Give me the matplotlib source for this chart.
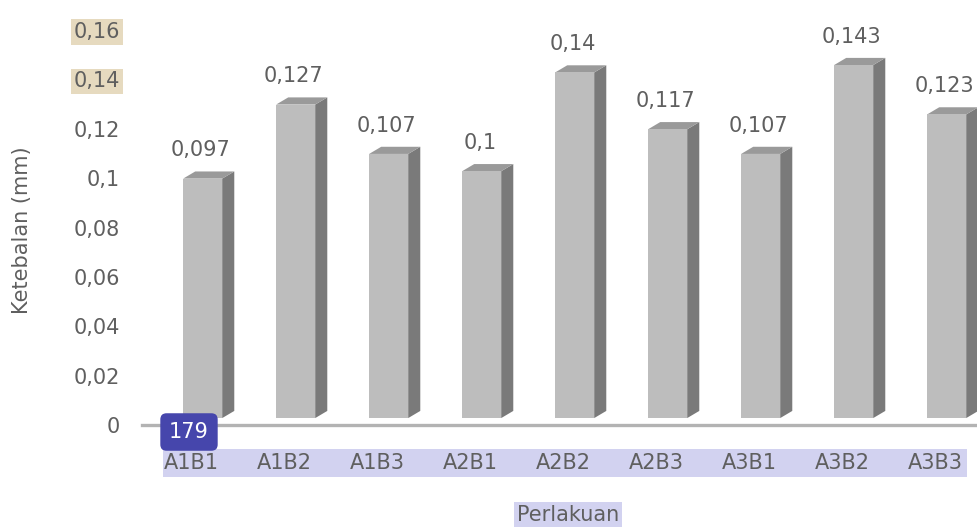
import matplotlib.pyplot as plt
from matplotlib.patches import Polygon, Rectangle

# DATA
categories = ['A1B1', 'A1B2', 'A1B3', 'A2B1', 'A2B2', 'A2B3', 'A3B1', 'A3B2', 'A3B3']
values = [0.097, 0.127, 0.107, 0.1, 0.14, 0.117, 0.107, 0.143, 0.123]
y_ticks = [0, 0.02, 0.04, 0.06, 0.08, 0.1, 0.12, 0.14, 0.16]
y_tick_labels = ['0', '0,02', '0,04', '0,06', '0,08', '0,1', '0,12', '0,14', '0,16']
value_labels = ['0,097', '0,127', '0,107', '0,1', '0,14', '0,117', '0,107', '0,143', '0,123']

W, H = 978, 527
fig = plt.figure(figsize=(W / 100, H / 100), dpi=100)
plt.rcParams['font.family'] = ['DejaVu Sans']

def px(x0, y0, x1, y1):
    # pixel box (top-left origin) -> figure fraction [l, b, w, h]
    return [x0 / W, 1 - y1 / H, (x1 - x0) / W, (y1 - y0) / H]

ax = fig.add_axes(px(145, 30, 982, 425))
ax.set_xlim(-0.5, len(categories) - 0.5)
ax.set_ylim(0, 0.16)

txt_col = '#5f5f5f'
fs = 15
front_col, side_col, top_col = '#bdbdbd', '#7a7a7a', '#9a9a9a'

# fake 3D bars, Excel style
x_l, x_r = -0.09, 0.33      # front face relative to category center
dx, dy = 0.13, 0.0029      # depth of side / top faces
floor = 0.0028
for i, v in enumerate(values):
    l, r = i + x_l, i + x_r
    b, t = floor, floor + v
    ax.add_patch(Polygon([(r, b), (r + dx, b + dy), (r + dx, t + dy), (r, t)],
                         closed=True, fc=side_col, ec='none', zorder=2))
    ax.add_patch(Polygon([(l, t), (r, t), (r + dx, t + dy), (l + dx, t + dy)],
                         closed=True, fc=top_col, ec='none', zorder=2))
    ax.add_patch(Rectangle((l, b), r - l, v, fc=front_col, ec='none', zorder=3))
    ax.annotate(value_labels[i], ((l + r) / 2 - 0.02, t + dy), xytext=(0, 8),
                textcoords='offset points', ha='center', va='bottom',
                fontsize=fs, color=txt_col, annotation_clip=False)

# floor / axis line
ax.axhline(0, xmin=-0.003, xmax=1, color='#b3b3b3', lw=2.4, zorder=1, clip_on=False)

for s in ax.spines.values():
    s.set_visible(False)
ax.set_xticks(range(len(categories)))
ax.set_xticklabels(categories, fontsize=fs, color=txt_col)
ax.set_yticks(y_ticks)
ax.set_yticklabels(y_tick_labels, fontsize=fs, color=txt_col)
ax.tick_params(axis='x', length=0, pad=20)
ax.tick_params(axis='y', length=0, pad=18)

# highlighted tick labels
for lab in ax.get_yticklabels():
    if lab.get_text() in ('0,16', '0,14'):
        lab.set_bbox(dict(fc='#e6dabf', ec='none', pad=2))

# lavender band behind the category labels
fig.add_artist(Rectangle((163 / W, 1 - 477 / H), (967 - 163) / W, 28 / H,
                         transform=fig.transFigure, fc='#d2d2f0', ec='none', zorder=0))

fig.text(22 / W, 1 - 230 / H, 'Ketebalan (mm)', rotation=90, ha='center', va='center',
         fontsize=fs, color=txt_col)
fig.text(568 / W, 1 - 515 / H, 'Perlakuan', ha='center', va='center', fontsize=fs,
         color=txt_col, bbox=dict(fc='#d2d2f0', ec='none', pad=2))

# page number badge
fig.text(189 / W, 1 - 432 / H, '179', ha='center', va='center', fontsize=15, color='white',
         bbox=dict(boxstyle='round,pad=0.42,rounding_size=0.3', fc='#4646ac', ec='none'),
         zorder=10)

fig.savefig('out.png', dpi=100)
